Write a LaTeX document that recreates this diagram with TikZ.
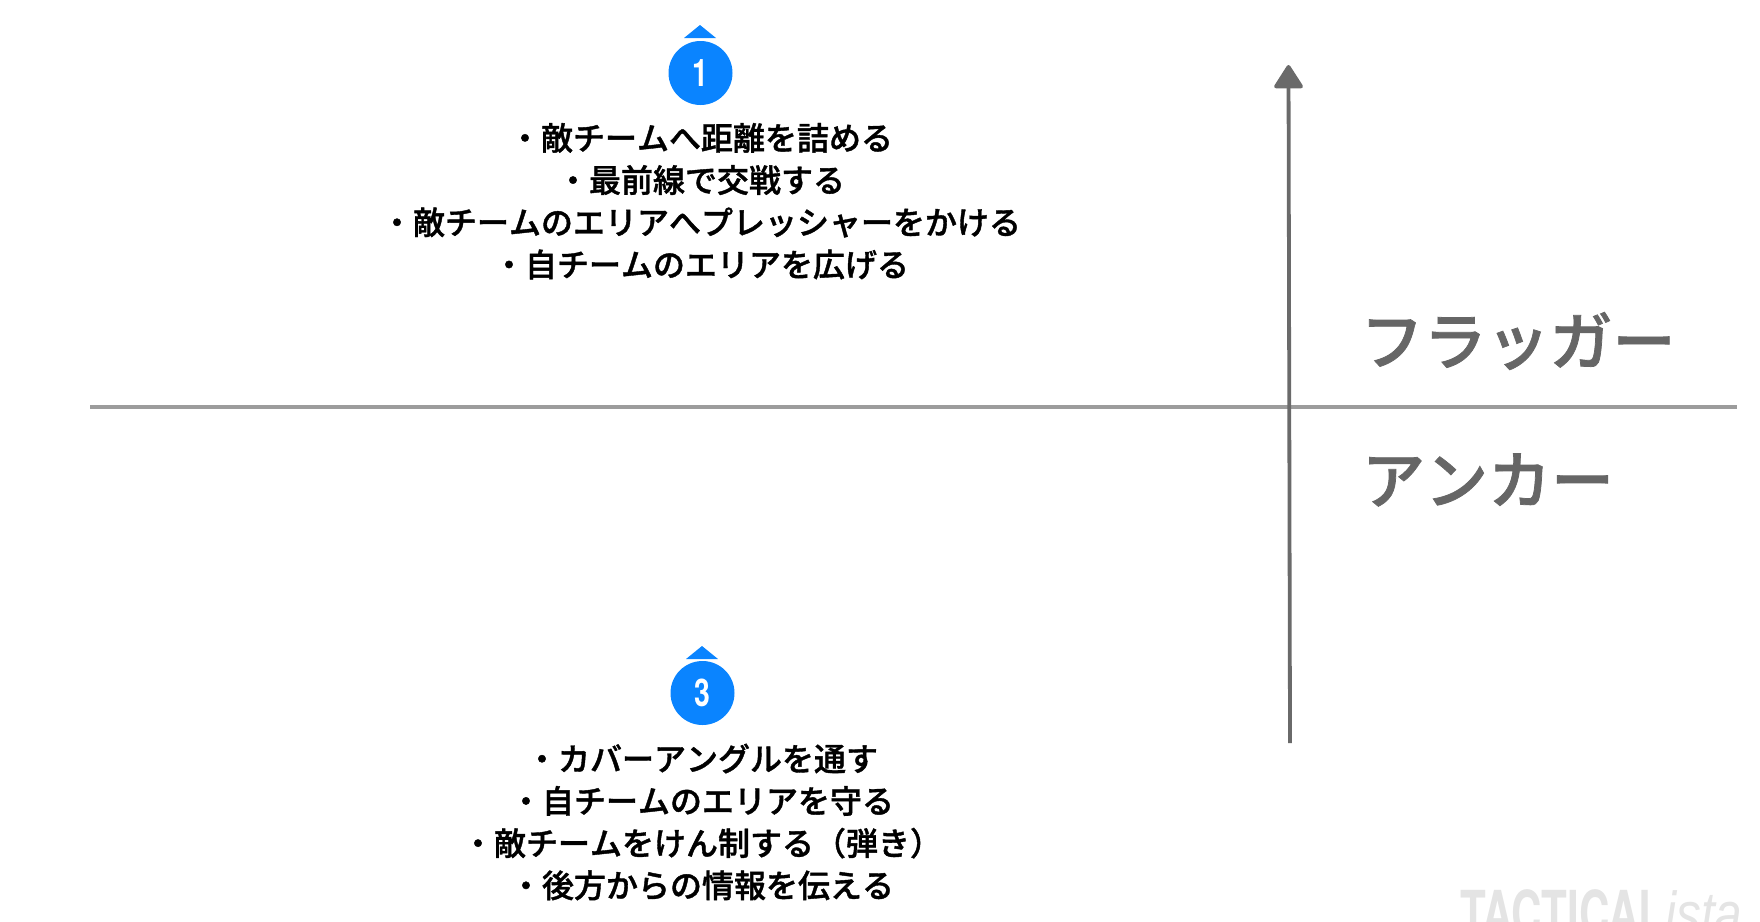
\documentclass[tikz,border=0pt]{standalone}
\usepackage{fontspec}
\usetikzlibrary{arrows.meta}
\setmainfont{Noto Sans CJK JP}
\newfontfamily\jpfont{Noto Sans CJK JP Medium}[Kerning=Off,FakeBold=1.2]
\newfontfamily\digitfont{TeX Gyre Heros Bold}[FakeStretch=0.75]
\newfontfamily\wmfont{TeX Gyre Heros Bold}[FakeStretch=0.68]
\newfontfamily\wmital{Liberation Sans Italic}[FakeStretch=0.8]
\definecolor{badgeblue}{HTML}{0A84FF}
\definecolor{axisgray}{HTML}{6A6A6A}
\definecolor{splitgray}{HTML}{9C9C9C}
\definecolor{labelgray}{HTML}{666666}
\definecolor{wmgray}{HTML}{E4E4E4}
\tikzset{
  badge/.style={circle,fill=badgeblue,minimum size=64pt,inner sep=0pt,text=white,font=\digitfont\fontsize{38}{38}\selectfont},
  tick/.style={fill=badgeblue,draw=none},
  listing/.style={align=center,inner sep=0pt,text=black,font=\jpfont\fontsize{32}{42.2}\selectfont},
  rolelabel/.style={inner sep=0pt,text=labelgray,font=\jpfont\fontsize{63}{63}\selectfont},
}
\begin{document}
\begin{tikzpicture}[x=1pt,y=-1pt]
\useasboundingbox (0,0) rectangle (1760,921);
\clip (0,0) rectangle (1760,921);
% split line and axis
\coordinate (hl) at (90,407);
\coordinate (hr) at (1737,407);
\coordinate (vb) at (1290,743);
\coordinate (vt) at (1288.5,65);
\draw[splitgray,line width=3.5pt] (hl) -- (hr);
\draw[axisgray,line width=3.8pt,-{Triangle[length=25pt,width=31pt,round]}] (vb) -- (vt);
% badges
\fill[tick] (700,25) -- (716,38) -- (684,38) -- cycle;
\node[badge] (b1) at (700.5,73) {1};
\fill[tick] (702,646) -- (718,659) -- (686,659) -- cycle;
\node[badge] (b3) at (702.5,693) {3};
% lists
\node[listing] (top) at (701,201.2) {・敵チームへ距離を詰める\\・最前線で交戦する\\・敵チームのエリアへプレッシャーをかける\\・自チームのエリアを広げる};
\node[listing] (bot) at (702,822) {・カバーアングルを通す\\・自チームのエリアを守る\\・敵チームをけん制する（弾き）\\・後方からの情報を伝える};
% role labels
\node[rolelabel] (fl) at (1518,341) {フラッガー};
\node[rolelabel] (an) at (1488,480) {アンカー};
% watermark
\node[anchor=base west,inner sep=0pt,text=wmgray,font=\wmfont\fontsize{62}{62}\selectfont] (wm) at (1460,935) {TACTICAL};
\node[anchor=base west,inner sep=0pt,text=wmgray,font=\wmital\fontsize{62}{62}\selectfont] (wi) at (1665,935) {ista};
\end{tikzpicture}
\end{document}
